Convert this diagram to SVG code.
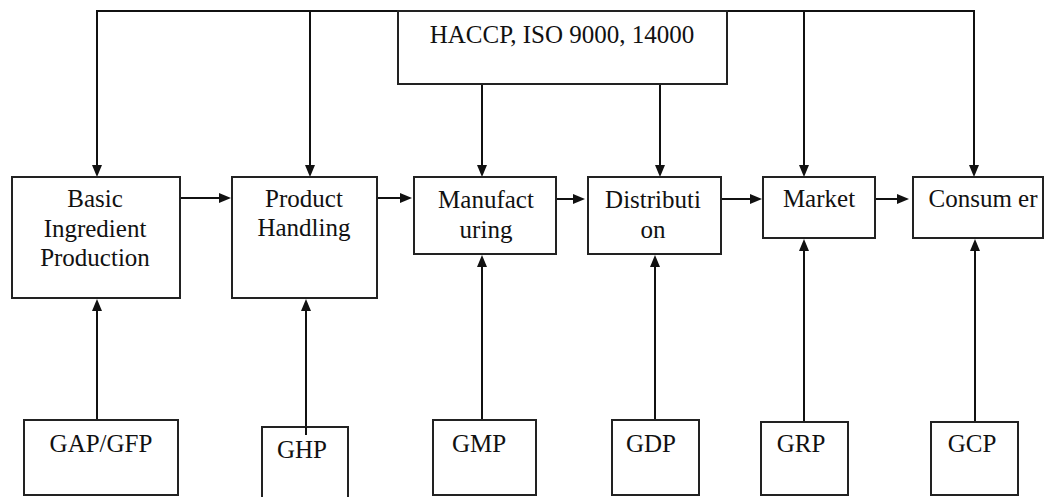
<svg xmlns="http://www.w3.org/2000/svg" width="1054" height="497" viewBox="0 0 1054 497">
<defs>
<marker id="ah" markerUnits="userSpaceOnUse" markerWidth="13" markerHeight="12" refX="2" refY="5.5" orient="auto">
<path d="M0,0.5 L12,5.5 L0,10.5 z" fill="#111"/>
</marker>
<style>
.box{fill:#fff;stroke:#222;stroke-width:2}
.t{font-family:"Liberation Serif","Times New Roman",serif;font-size:25px;fill:#111;text-anchor:middle}
.c{fill:none;stroke:#111;stroke-width:2}
.a{fill:none;stroke:#111;stroke-width:2;marker-end:url(#ah)}
</style>
</defs>
<rect width="1054" height="497" fill="#fff"/>
<g id="connectors">
<polyline class="c" points="97,168 97,11 974,11 974,168"/>
<line class="c" x1="310" y1="11" x2="310" y2="168"/>
<line class="c" x1="804" y1="11" x2="804" y2="168"/>
<line class="a" x1="97" y1="160" x2="97" y2="167"/>
<line class="a" x1="310" y1="160" x2="310" y2="167"/>
<line class="a" x1="804" y1="160" x2="804" y2="167"/>
<line class="a" x1="974" y1="160" x2="974" y2="167"/>
<line class="a" x1="482" y1="79" x2="482" y2="167"/>
<line class="a" x1="660" y1="79" x2="660" y2="167"/>
<line class="a" x1="180" y1="198" x2="221" y2="198"/>
<line class="a" x1="377" y1="198" x2="402" y2="198"/>
<line class="a" x1="549" y1="199" x2="575" y2="199"/>
<line class="a" x1="721" y1="199" x2="752" y2="199"/>
<line class="a" x1="872" y1="199" x2="899" y2="199"/>
<line class="a" x1="97" y1="420" x2="97" y2="309"/>
<line class="a" x1="306" y1="435" x2="306" y2="309"/>
<line class="a" x1="482" y1="420" x2="482" y2="265"/>
<line class="a" x1="655" y1="420" x2="655" y2="265"/>
<line class="a" x1="804" y1="422" x2="804" y2="249"/>
<line class="a" x1="975" y1="422" x2="975" y2="249"/>
</g>
<g id="haccp">
<rect class="box" x="398" y="11" width="329" height="73" fill="none"/>
<text class="t" x="562" y="43">HACCP, ISO 9000, 14000</text>
</g>
<g id="basic">
<rect class="box" x="12" y="177" width="168" height="121"/>
<text class="t" x="95" y="207">Basic</text>
<text class="t" x="95" y="237">Ingredient</text>
<text class="t" x="95" y="266">Production</text>
</g>
<g id="product">
<rect class="box" x="232" y="177" width="145" height="121"/>
<text class="t" x="304" y="207">Product</text>
<text class="t" x="304" y="236">Handling</text>
</g>
<g id="manufacturing">
<rect class="box" x="414" y="177" width="142" height="77"/>
<text class="t" x="486" y="208">Manufact</text>
<text class="t" x="486" y="238">uring</text>
</g>
<g id="distribution">
<rect class="box" x="588" y="177" width="133" height="77"/>
<text class="t" x="653" y="208">Distributi</text>
<text class="t" x="653" y="238">on</text>
</g>
<g id="market">
<rect class="box" x="763" y="177" width="112" height="61"/>
<text class="t" x="819" y="207">Market</text>
</g>
<g id="consumer">
<rect class="box" x="913" y="177" width="130" height="61"/>
<text class="t" x="983" y="207">Consum er</text>
</g>
<g id="gap">
<rect class="box" x="24" y="420" width="154" height="75"/>
<text class="t" x="101" y="452">GAP/GFP</text>
</g>
<g id="ghp">
<rect class="box" x="262" y="427" width="86" height="75"/>
<line class="c" x1="306" y1="427" x2="306" y2="435"/>
<text class="t" x="302" y="458">GHP</text>
</g>
<g id="gmp">
<rect class="box" x="433" y="420" width="103" height="75"/>
<text class="t" x="479" y="452">GMP</text>
</g>
<g id="gdp">
<rect class="box" x="612" y="420" width="87" height="75"/>
<text class="t" x="651" y="452">GDP</text>
</g>
<g id="grp">
<rect class="box" x="761" y="422" width="87" height="73"/>
<text class="t" x="801" y="452">GRP</text>
</g>
<g id="gcp">
<rect class="box" x="931" y="422" width="87" height="73"/>
<text class="t" x="972" y="452">GCP</text>
</g>
</svg>
